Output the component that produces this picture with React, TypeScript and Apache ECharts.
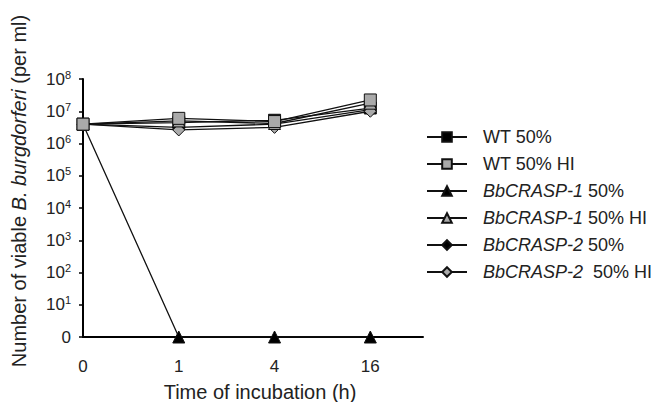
import React, { useEffect, useRef } from "react";
import * as echarts from "echarts";

const timeLabels = ["0", "1", "4", "16"];
const yTickExponents = [0, 1, 2, 3, 4, 5, 6, 7, 8];

// log10 of viable count per ml (0 = none detected)
const wt50 = [6.6, 6.65, 6.72, 7.1];
const wt50HI = [6.6, 6.78, 6.68, 7.35];
const crasp1_50 = [6.6, 0, 0, 0];
const crasp1_50HI = [6.6, 6.7, 6.62, 7.25];
const crasp2_50 = [6.6, 6.5, 6.6, 7.05];
const crasp2_50HI = [6.6, 6.42, 6.5, 7.0];

const seriesNames = [
  "WT 50%",
  "WT 50% HI",
  "BbCRASP-1 50%",
  "BbCRASP-1 50% HI",
  "BbCRASP-2 50%",
  "BbCRASP-2  50% HI",
];

const FONT = "'Liberation Sans', Arial, sans-serif";
const TXT = "#222";

export default function App() {
  const ref = useRef<HTMLDivElement>(null);
  useEffect(() => {
    if (!ref.current) return;
    const chart = echarts.init(ref.current, null, { renderer: "svg" });
    const mk = (
      name: string,
      data: number[],
      symbol: string,
      fill: string,
      size: number
    ) => ({
      name,
      type: "line",
      data: data.map((v, i) => [i, v]),
      symbol,
      symbolSize: size,
      showSymbol: true,
      lineStyle: { color: "#111", width: 1.3 },
      itemStyle: { color: fill, borderColor: "#111", borderWidth: 1 },
      z: 3,
    });
    chart.setOption({
      animation: false,
      textStyle: { fontFamily: FONT },
      grid: { left: 83, right: 230, top: 79, bottom: 65 },
      legend: {
        orient: "vertical",
        left: 421,
        top: 123,
        itemGap: 9,
        itemWidth: 40,
        itemHeight: 12,
        data: seriesNames,
        textStyle: {
          fontFamily: FONT,
          fontSize: 18,
          color: TXT,
          padding: [0, 0, 0, 11],
          rich: {
            i: { fontStyle: "italic", fontSize: 18, fontFamily: FONT, color: TXT },
            n: { fontSize: 18, fontFamily: FONT, color: TXT },
          },
        },
        formatter: (name: string) => {
          const m = name.match(/^(BbCRASP-\d)(.*)$/);
          if (m) return `{i|${m[1]}}{n|${m[2]}}`;
          return `{n|${name}}`;
        },
      },
      xAxis: {
        type: "value",
        min: 0,
        max: 3.55,
        interval: 1,
        splitLine: { show: false },
        axisTick: { show: false },
        axisLine: { lineStyle: { color: "#000", width: 2 } },
        axisLabel: {
          margin: 21,
          fontSize: 17,
          color: TXT,
          fontFamily: FONT,
          showMaxLabel: false,
          formatter: (v: number) =>
            Number.isInteger(v) && timeLabels[v] !== undefined ? timeLabels[v] : "",
        },
      },
      yAxis: {
        type: "value",
        min: 0,
        max: 8,
        interval: 1,
        splitLine: { show: false },
        axisLine: { show: true, lineStyle: { color: "#000", width: 2 } },
        axisTick: { show: true, length: 4, lineStyle: { color: "#000", width: 1.5 } },
        axisLabel: {
          margin: 12,
          color: TXT,
          fontFamily: FONT,
          formatter: (v: number) =>
            yTickExponents.includes(v)
              ? v === 0
                ? "{b|0}"
                : `{b|10}{s|${v}}`
              : "",
          rich: {
            b: { fontSize: 17, fontFamily: FONT, color: TXT },
            s: {
              fontSize: 11,
              fontFamily: FONT,
              color: TXT,
              verticalAlign: "bottom",
              padding: [0, 0, 9, 0],
            },
          },
        },
      },
      graphic: [
        {
          type: "text",
          x: 19,
          y: 191,
          rotation: Math.PI / 2,
          style: {
            text: "{n|Number of viable }{i|B. burgdorferi}{n| (per ml)}",
            fill: TXT,
            align: "center",
            verticalAlign: "middle",
            rich: {
              n: { fontSize: 20, fontFamily: FONT, fill: TXT },
              i: { fontSize: 20, fontFamily: FONT, fontStyle: "italic", fill: TXT },
            },
          },
        },
        {
          type: "text",
          x: 260,
          y: 392,
          style: {
            text: "Time of incubation (h)",
            fontSize: 20,
            fontFamily: FONT,
            fill: TXT,
            align: "center",
            verticalAlign: "middle",
          },
        },
      ],
      series: [
        mk(seriesNames[2], crasp1_50, "triangle", "#000", 12),
        mk(seriesNames[4], crasp2_50, "diamond", "#000", 12),
        mk(seriesNames[0], wt50, "rect", "#000", 12),
        mk(seriesNames[5], crasp2_50HI, "diamond", "#aaa", 12),
        mk(seriesNames[3], crasp1_50HI, "triangle", "#aaa", 12),
        mk(seriesNames[1], wt50HI, "rect", "#aaa", 12),
      ],
    });
    return () => chart.dispose();
  }, []);
  return (
    <div
      ref={ref}
      style={{ position: "absolute", left: 0, top: 0, width: 653, height: 402 }}
    />
  );
}
